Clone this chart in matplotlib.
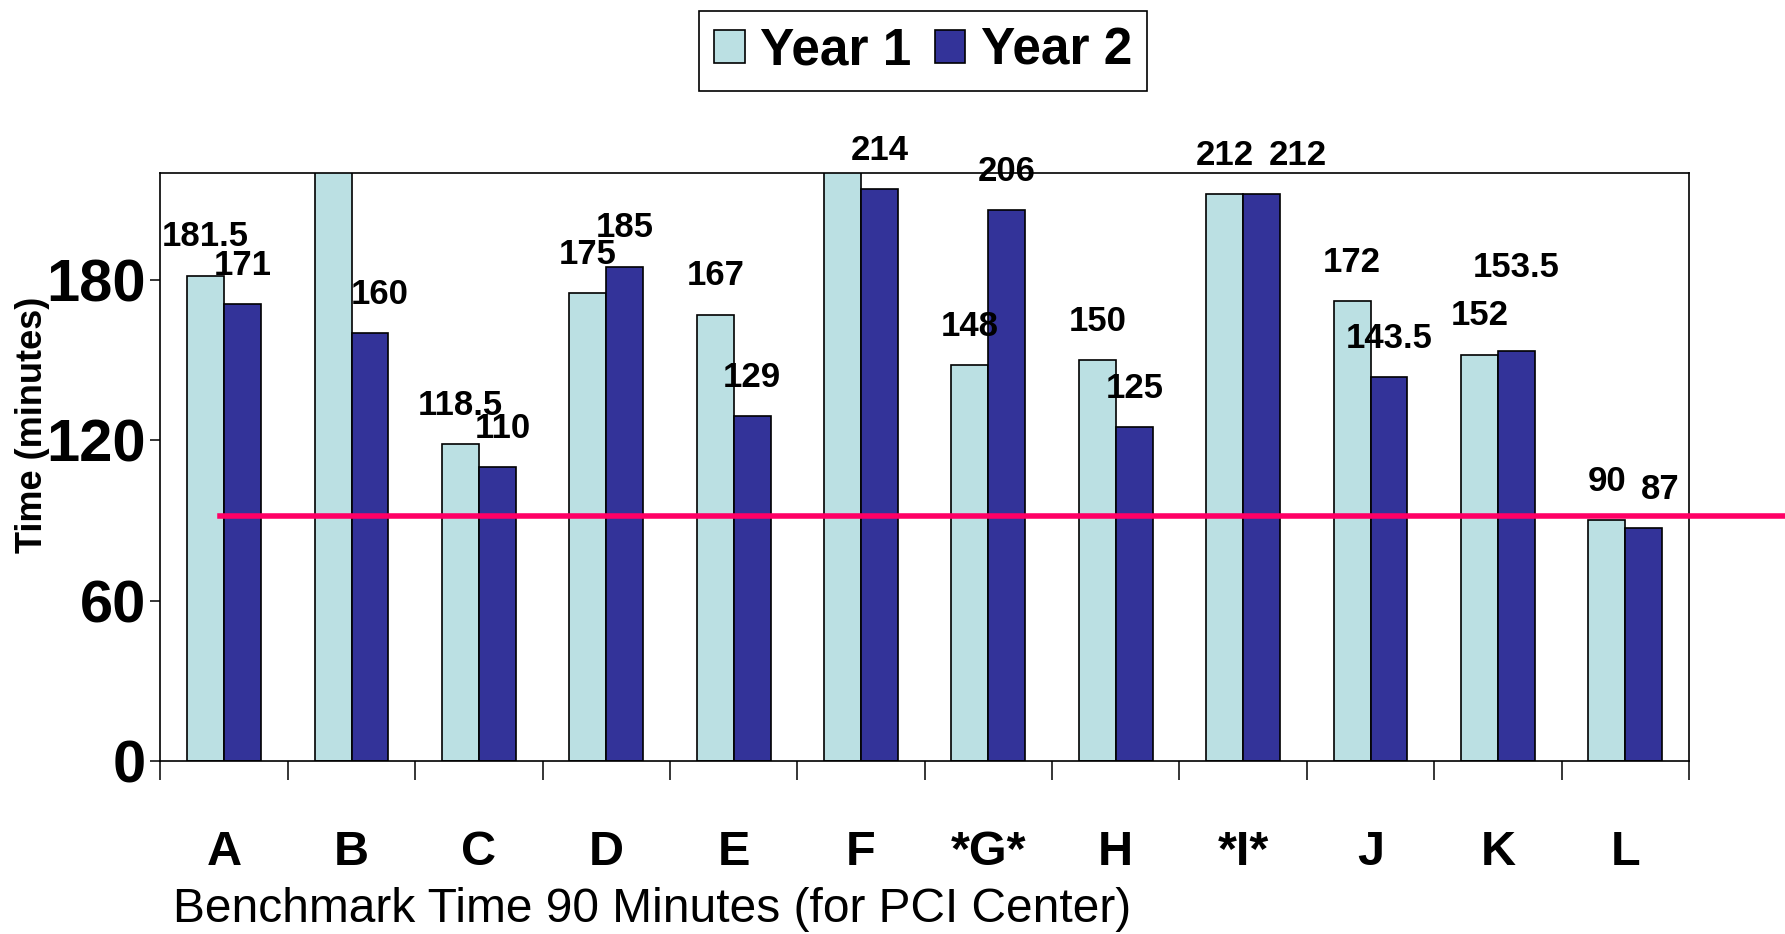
import matplotlib
matplotlib.use('Agg')
import matplotlib.pyplot as plt
import numpy as np

# данные
centers = ['A', 'B', 'C', 'D', 'E', 'F', '*G*', 'H', '*I*', 'J', 'K', 'L']
year1 = [181.5, 235, 118.5, 175, 167, 232, 148, 150, 212, 172, 152, 90]
year2 = [171, 160, 110, 185, 129, 214, 206, 125, 212, 143.5, 153.5, 87]
# подписи над столбцами (None - подпись за пределами картинки)
year1_labels = ['181.5', None, '118.5', '175', '167', None, '148', '150', '212', '172', '152', '90']
year2_labels = ['171', '160', '110', '185', '129', '214', '206', '125', '212', '143.5', '153.5', '87']
benchmark = 91.5
y_ticks = [0, 60, 120, 180]

c1 = '#BBE0E3'
c2 = '#333399'
plt.rcParams['font.family'] = ['Liberation Sans', 'DejaVu Sans']

fig = plt.figure(figsize=(17.85, 9.34), dpi=100)
ax = fig.add_axes([0.0899, 0.1852, 0.8563, 0.6296])

x = np.arange(len(centers))
w = 0.29
b1 = ax.bar(x - w / 2, year1, w, color=c1, edgecolor='black', linewidth=1.2, label='Year 1', zorder=2)
b2 = ax.bar(x + w / 2, year2, w, color=c2, edgecolor='black', linewidth=1.2, label='Year 2', zorder=2)

# сдвиги отдельных подписей (в пунктах)
shift = {(1, 1): (7, 0), (1, 2): (4, 0), (1, 8): (26, 0), (1, 11): (12, 0), (1, 10): (0, 32)}

for k, (bars, labels) in enumerate(((b1, year1_labels), (b2, year2_labels))):
    for i, (rect, lab) in enumerate(zip(bars, labels)):
        if lab is None:
            continue
        dx, dy = shift.get((k, i), (0, 0))
        ax.annotate(lab, (rect.get_x() + rect.get_width() / 2, rect.get_height()),
                    xytext=(dx, 28 + dy), textcoords='offset points', ha='center', va='center',
                    fontsize=25, fontweight='bold', zorder=5, annotation_clip=False)

# линия норматива
ax.axhline(benchmark, xmin=0.039, xmax=1.1, color='#FF0066', linewidth=4, clip_on=False, zorder=4)

ax.set_xlim(-0.5, len(centers) - 0.5)
ax.set_ylim(0, 220)

ax.set_yticks(y_ticks)
ax.set_yticklabels([str(v) for v in y_ticks], fontsize=43, fontweight='bold')
ax.tick_params(axis='y', direction='out', length=7.5, width=1.1, pad=3)

ax.set_xticks(np.arange(-0.5, len(centers), 1.0))
ax.set_xticklabels([])
ax.tick_params(axis='x', which='major', direction='out', length=14, width=1.1)
ax.set_xticks(x, minor=True)
ax.set_xticklabels(centers, minor=True, fontsize=35, fontweight='bold')
ax.tick_params(axis='x', which='minor', length=0, pad=50)

for s in ax.spines.values():
    s.set_linewidth(1.2)

fig.text(0.018, 0.545, 'Time (minutes)', rotation=90, fontsize=26, fontweight='bold',
         ha='center', va='center')
fig.text(0.097, 0.026, 'Benchmark Time 90 Minutes (for PCI Center)', fontsize=34.5,
         ha='left', va='center')

leg = fig.legend(handles=[b1, b2], labels=['Year 1', 'Year 2'], loc='center',
                 bbox_to_anchor=(923 / 1785, 1 - 51 / 934), ncol=2, fancybox=False,
                 framealpha=1, edgecolor='black', handlelength=0.6, handleheight=0.6,
                 handletextpad=0.3, columnspacing=0.45, borderpad=0.3,
                 prop={'weight': 'bold', 'size': 37})
leg.get_frame().set_linewidth(1.2)

fig.savefig('out.png', dpi=100)
